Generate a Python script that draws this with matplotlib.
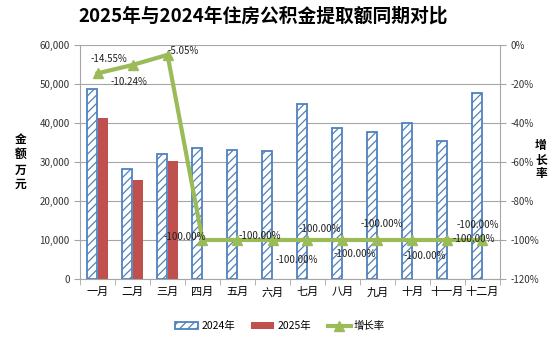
import numpy as np
import matplotlib.pyplot as plt
from matplotlib.ticker import FuncFormatter

plt.rcParams['font.family'] = ['Noto Sans CJK SC', 'DejaVu Sans']
plt.rcParams['hatch.linewidth'] = 0.9

months = ['一月', '二月', '三月', '四月', '五月', '六月', '七月', '八月', '九月', '十月', '十一月', '十二月']
v2024 = [48700, 28300, 32100, 33600, 33200, 32900, 44900, 38600, 37700, 40100, 35400, 47700]
v2025 = [41300, 25400, 30300, 0, 0, 0, 0, 0, 0, 0, 0, 0]
growth = [-14.55, -10.24, -5.05, -100, -100, -100, -100, -100, -100, -100, -100, -100]
# label offsets (pixels) for each growth label
lab_off = [(11, 14), (-4, -17), (16, 4), (-18, 3), (22, 4), (24, -20), (12, 11),
           (12, -14), (4, 16), (12, -16), (26, 1), (-5, 15)]

blue = '#4F81BD'
red = '#C0504D'
green = '#9BBB59'
grid_c = '#A6A6A6'

fig = plt.figure(figsize=(5.54, 3.42), dpi=100)
ax = fig.add_axes([80 / 554, 1 - 279 / 342, 420 / 554, 234 / 342])
ax2 = ax.twinx()

x = np.arange(len(months))
w = 0.29
ax.bar(x - 0.15, v2024, w, color='white', edgecolor=blue, hatch='////', linewidth=1.3, label='2024年', zorder=2)
ax.bar(x + 0.15, v2025, w, color=red, label='2025年', zorder=2)

ax.set_xlim(-0.5, 11.5)
ax.set_ylim(0, 60000)
ax.set_yticks(np.arange(0, 60001, 10000))
ax.yaxis.set_major_formatter(FuncFormatter(lambda v, p: f'{int(v):,}'))
ax.set_xticks(x)
ax.set_xticklabels(months)
ax.set_xticks(np.arange(-0.5, 12, 1), minor=True)
ax.tick_params(axis='x', which='major', length=0, labelsize=8, pad=6)
ax.tick_params(axis='x', which='minor', length=4, color=grid_c)
ax.tick_params(axis='y', length=4, color=grid_c, labelsize=7, labelcolor='#333333')
ax.grid(axis='y', color=grid_c, linewidth=0.8, zorder=0)
ax.set_axisbelow(True)
for s in ['top', 'right']:
    ax.spines[s].set_visible(False)
for s in ['left', 'bottom']:
    ax.spines[s].set_color(grid_c)

ax2.plot(x, growth, color=green, linewidth=3, marker='^', markersize=7, label='增长率', zorder=3)
ax2.set_ylim(-120, 0)
ax2.set_yticks(np.arange(-120, 1, 20))
ax2.yaxis.set_major_formatter(FuncFormatter(lambda v, p: f'{int(v)}%'))
ax2.tick_params(axis='y', length=4, color=grid_c, labelsize=7, labelcolor='#333333')
for s in ['top', 'left', 'bottom']:
    ax2.spines[s].set_visible(False)
ax2.spines['right'].set_color(grid_c)

for i, g in enumerate(growth):
    ax2.annotate(f'{g:.2f}%', (x[i], g), xytext=lab_off[i], textcoords='offset pixels',
                 ha='center', va='center', fontsize=7, color='#222222')

fig.text(0.475, 1 - 16 / 342, '2025年与2024年住房公积金提取额同期对比', ha='center', va='center',
         fontsize=13.5, fontweight='bold')
fig.text(21 / 554, 1 - 147 / 342, '金\n额', ha='center', va='center', fontsize=8.5,
         fontweight='bold', linespacing=1.1)
fig.text(21 / 554, 1 - 177 / 342, '万\n元', ha='center', va='center', fontsize=8.5,
         fontweight='bold', linespacing=1.1)
fig.text(541 / 554, 1 - 160 / 342, '增\n长\n率', ha='center', va='center', fontsize=8.5,
         fontweight='bold', linespacing=1.1)

h1, l1 = ax.get_legend_handles_labels()
h2, l2 = ax2.get_legend_handles_labels()
fig.legend(h1 + h2, l1 + l2, loc='center', bbox_to_anchor=(280 / 554, 1 - 326 / 342), ncol=3,
           frameon=False, fontsize=7.5, handlelength=2.2, handleheight=0.6, columnspacing=1.6,
           handletextpad=0.3)

fig.savefig('out.png', dpi=100)
